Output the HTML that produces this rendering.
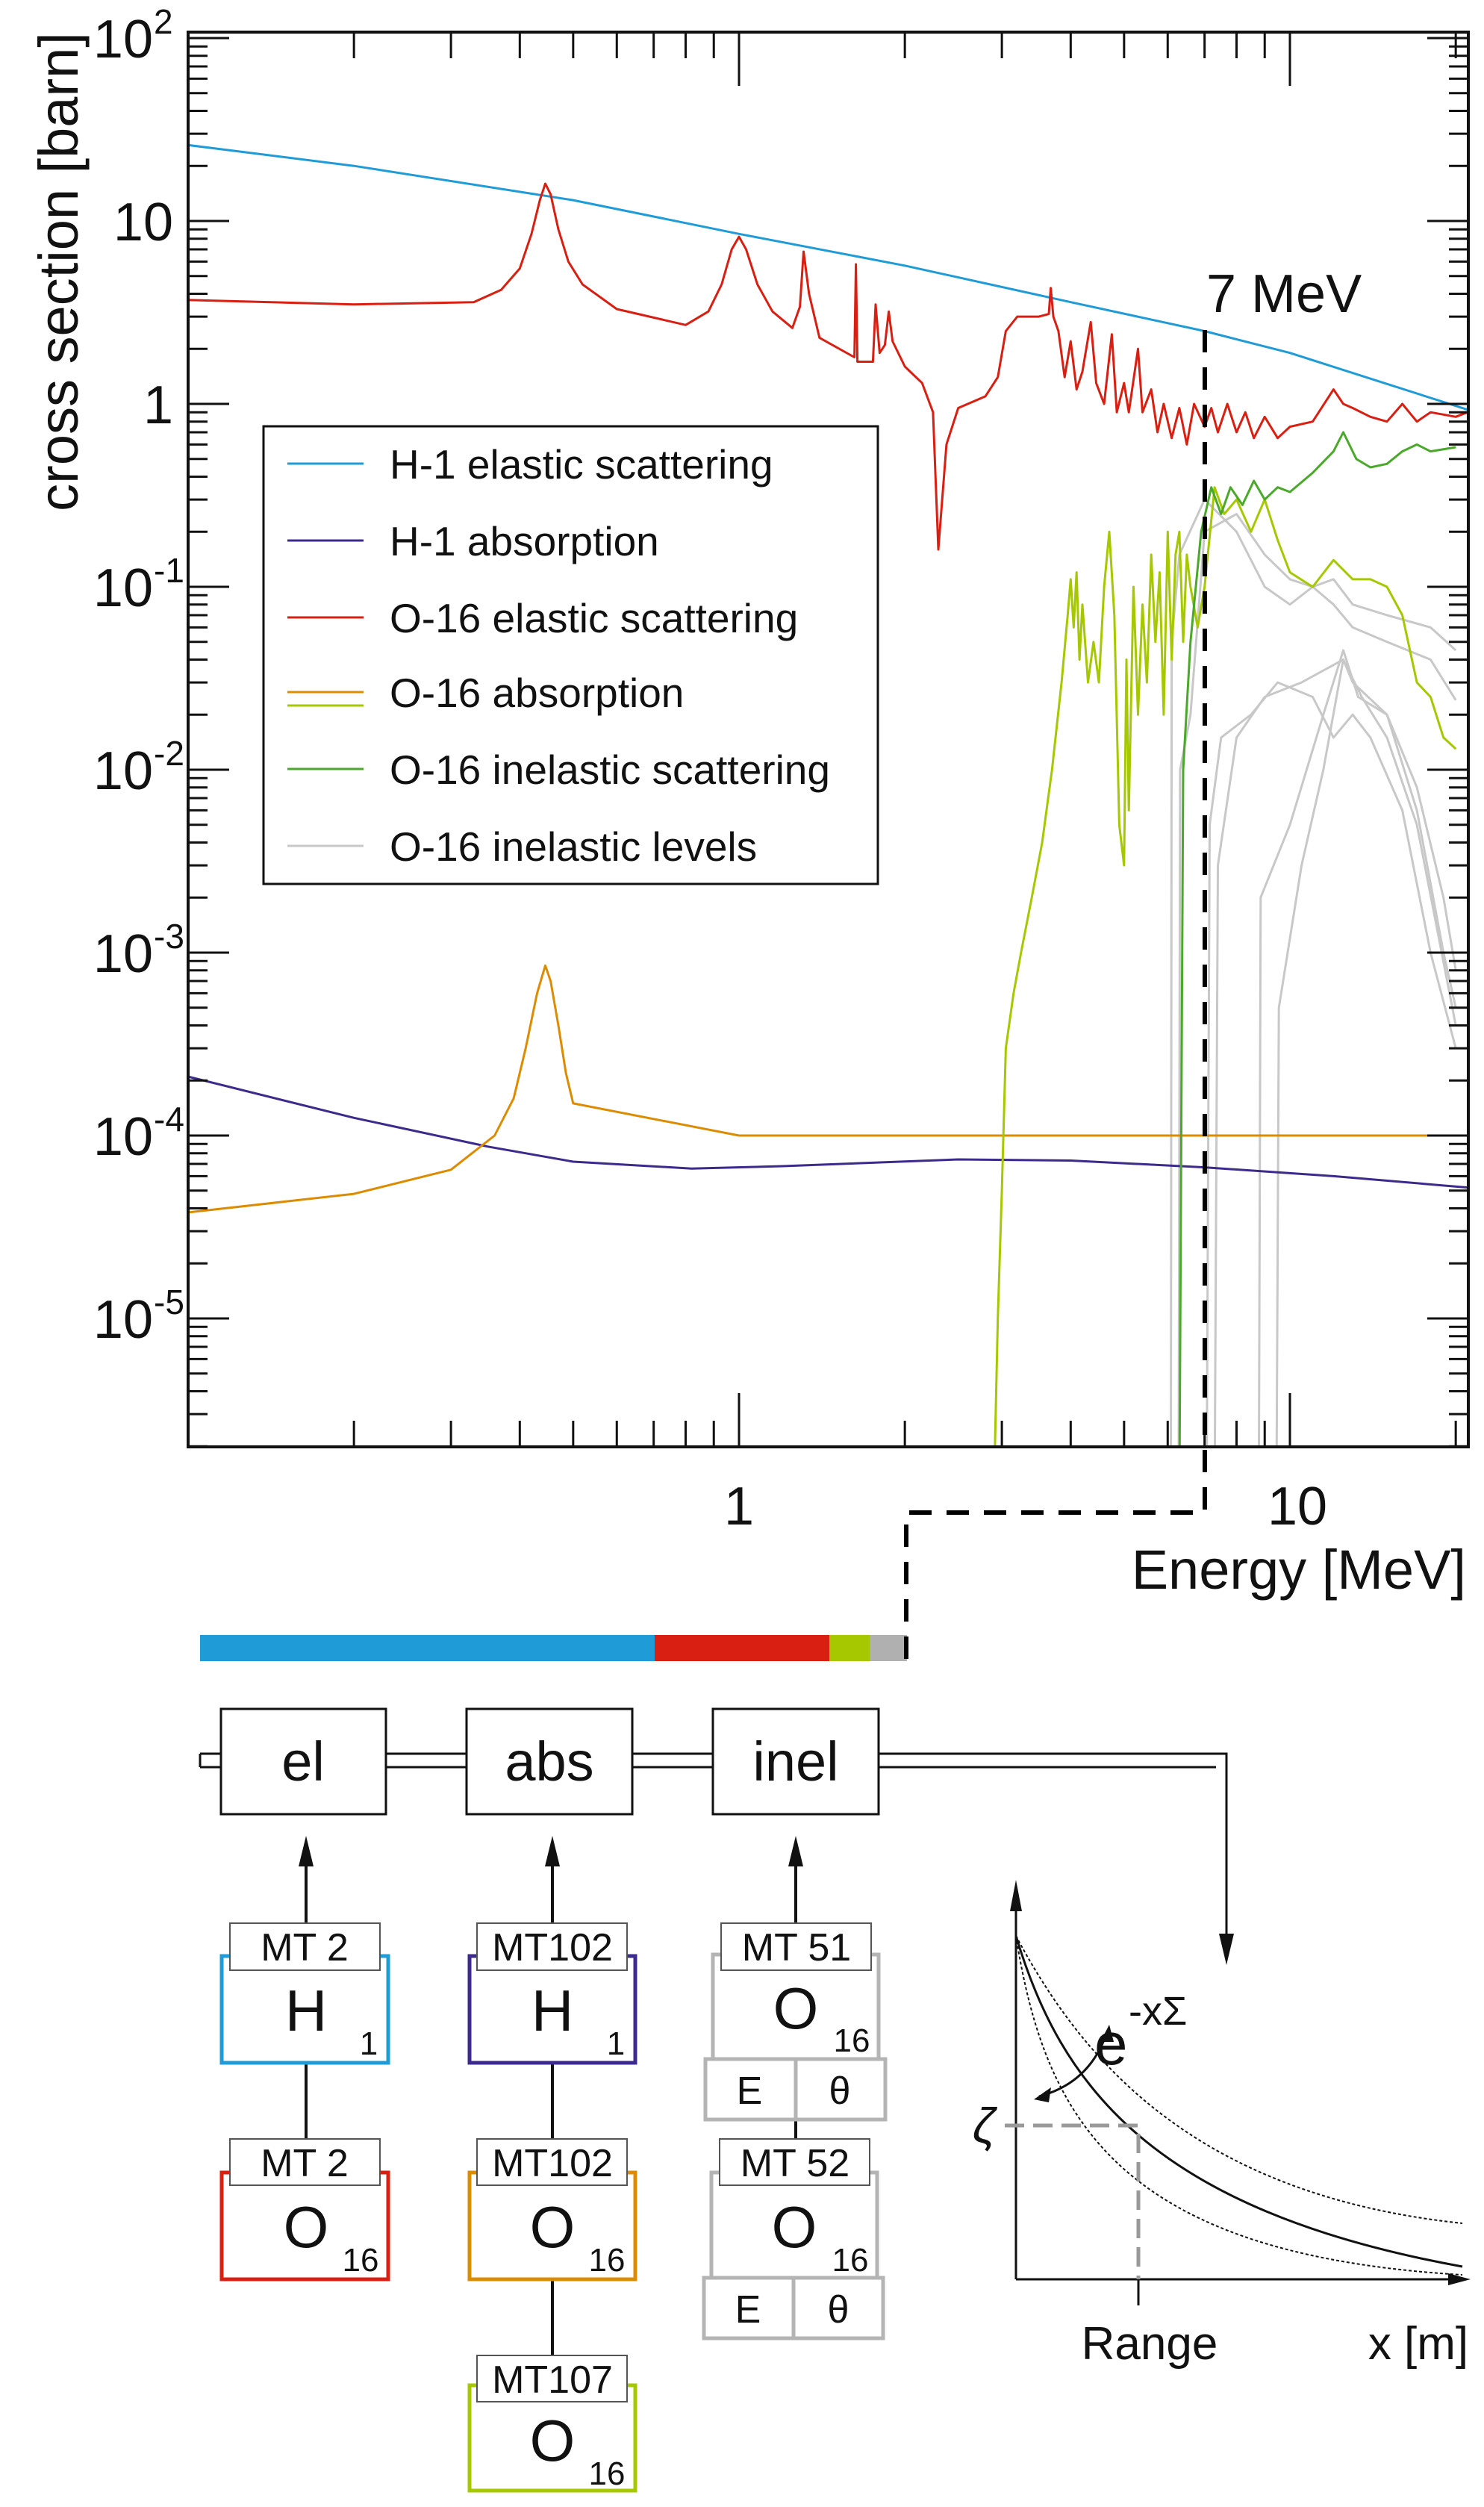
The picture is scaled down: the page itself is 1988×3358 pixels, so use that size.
<!DOCTYPE html>
<html><head><meta charset="utf-8"><style>
html,body{margin:0;padding:0;background:#fff}
svg{display:block}
text{font-family:"Liberation Sans",sans-serif;fill:#111}
.n{font-family:"Liberation Sans Narrow","Liberation Sans",sans-serif}
</style></head><body>
<svg id="svg" width="1988" height="3358" viewBox="0 0 1988 3358" xmlns="http://www.w3.org/2000/svg">
<g id="plot"></g>
<g id="diagram">
 <rect x="268" y="2190" width="609" height="35" fill="#1f9bd7"/>
 <rect x="877" y="2190" width="234" height="35" fill="#d81f12"/>
 <rect x="1111" y="2190" width="54" height="35" fill="#a5c800"/>
 <rect x="1165" y="2190" width="50" height="35" fill="#b0b0b0"/>
 <path d="M1614 442 V2026 H1214 V2228" fill="none" stroke="#000" stroke-width="6" stroke-dasharray="30 20"/>
 <path d="M268 2349 H1643 V2600 M268 2367 H1629" fill="none" stroke="#111" stroke-width="3"/>
 <path d="M268 2349 V2367" stroke="#111" stroke-width="3"/>
 <polygon points="1633,2590 1653,2590 1643,2632" fill="#111"/>
 <g stroke="#111" stroke-width="3" fill="#fff">
  <rect x="296" y="2289" width="221" height="141"/>
  <rect x="625" y="2289" width="222" height="141"/>
  <rect x="955" y="2289" width="222" height="141"/>
 </g>
 <text x="406" y="2385" font-size="74" text-anchor="middle" class="n">el</text>
 <text x="736" y="2385" font-size="74" text-anchor="middle" class="n">abs</text>
 <text x="1066" y="2385" font-size="74" text-anchor="middle" class="n">inel</text>
 <g stroke="#111" stroke-width="4">
  <path d="M410 2480 V2576 M740 2480 V2576 M1066 2480 V2576"/>
  <path d="M410 2763 V2865 M740 2763 V2865 M740 3053 V3155 M1066 2839 V2865"/>
 </g>
 <g fill="#111">
  <polygon points="400,2500 420,2500 410,2459"/>
  <polygon points="730,2500 750,2500 740,2459"/>
  <polygon points="1056,2500 1076,2500 1066,2459"/>
 </g>
 <g fill="#fff" stroke-width="5">
  <rect x="297" y="2620" width="223" height="143" stroke="#1f9bd7"/>
  <rect x="297" y="2910" width="223" height="143" stroke="#d81f12"/>
  <rect x="629" y="2620" width="222" height="143" stroke="#3c2a8c"/>
  <rect x="629" y="2910" width="222" height="143" stroke="#dc8c00"/>
  <rect x="629" y="3195" width="222" height="141" stroke="#a5c800"/>
  <rect x="955" y="2618" width="222" height="140" stroke="#b4b4b4"/>
  <rect x="945" y="2758" width="241" height="81" stroke="#b4b4b4"/>
  <rect x="953" y="2910" width="222" height="141" stroke="#b4b4b4"/>
  <rect x="943" y="3051" width="240" height="81" stroke="#b4b4b4"/>
 </g>
 <path d="M1066 2758 V2839 M1063 3051 V3132" stroke="#b4b4b4" stroke-width="5"/>
 <g fill="#fff" stroke="#555" stroke-width="2">
  <rect x="308" y="2576" width="201" height="63"/><rect x="308" y="2865" width="201" height="62"/>
  <rect x="639" y="2576" width="201" height="63"/><rect x="639" y="2865" width="201" height="62"/>
  <rect x="639" y="3155" width="201" height="62"/>
  <rect x="966" y="2576" width="201" height="63"/><rect x="964" y="2865" width="201" height="62"/>
 </g>
 <g font-size="52" text-anchor="middle" class="n">
  <text x="408" y="2626" class="n">MT 2</text>
  <text x="408" y="2915" class="n">MT 2</text>
  <text x="740" y="2626" class="n">MT102</text>
  <text x="740" y="2915" class="n">MT102</text>
  <text x="740" y="3205" class="n">MT107</text>
  <text x="1067" y="2626" class="n">MT 51</text>
  <text x="1065" y="2915" class="n">MT 52</text>
  <text x="1004" y="2818" class="n">E</text><text x="1125" y="2818" class="n">θ</text>
  <text x="1002" y="3111" class="n">E</text><text x="1123" y="3111" class="n">θ</text>
 </g>
 <g font-size="78" text-anchor="middle" class="n">
  <text x="410" y="2720" class="n">H</text><text x="740" y="2720" class="n">H</text>
  <text x="410" y="3010" class="n">O</text><text x="740" y="3010" class="n">O</text>
  <text x="740" y="3296" class="n">O</text>
  <text x="1066" y="2717" class="n">O</text><text x="1064" y="3010" class="n">O</text>
 </g>
 <g font-size="44" text-anchor="middle" class="n">
  <text x="494" y="2752" class="n">1</text><text x="825" y="2752" class="n">1</text>
  <text x="483" y="3042" class="n">16</text><text x="813" y="3042" class="n">16</text>
  <text x="813" y="3328" class="n">16</text>
  <text x="1141" y="2748" class="n">16</text><text x="1139" y="3042" class="n">16</text>
 </g>
 <g fill="none">
  <path d="M1361 3053 V2535 M1361 3053 H1945" stroke="#111" stroke-width="3"/>
  <polygon points="1353,2560 1369,2560 1361,2518" fill="#111"/>
  <polygon points="1940,3045 1940,3061 1970,3053" fill="#111"/>
  <path d="M1361 2593 C1420 2790 1540 2960 1959 3036" stroke="#111" stroke-width="3"/>
  <path d="M1361 2593 C1450 2760 1600 2940 1959 2978" stroke="#111" stroke-width="2" stroke-dasharray="4 3"/>
  <path d="M1361 2593 C1400 2840 1500 3020 1959 3047" stroke="#111" stroke-width="2" stroke-dasharray="4 3"/>
  <path d="M1346 2847 H1525 V3053" stroke="#999" stroke-width="5" stroke-dasharray="26 12"/>
  <path d="M1525 3053 V3088" stroke="#111" stroke-width="3"/>
  <path d="M1392 2808 Q1460 2790 1483 2722" stroke="#111" stroke-width="3"/>
  <polygon points="1385,2812 1408,2796 1405,2816" fill="#111"/>
  <polygon points="1486,2712 1474,2735 1492,2735" fill="#111"/>
 </g>
 <text x="1318" y="2870" font-size="66" text-anchor="middle" font-style="italic">ζ</text>
 <text x="1540" y="3160" font-size="62" text-anchor="middle" class="n">Range</text>
 <text x="1900" y="3160" font-size="62" text-anchor="middle" class="n">x [m]</text>
 <text x="1466" y="2765" font-size="80" class="n">e</text>
 <text x="1512" y="2712" font-size="54" class="n">-xΣ</text>
</g>
</svg>
<script>
const NS="http://www.w3.org/2000/svg";
const h1El=[[0.1,26],[0.2,20],[0.5,13],[1,8.5],[2,5.7],[4,3.6],[7,2.5],[10,1.9],[21,0.93]];
const h1Abs=[[0.1,2.1e-4],[0.2,1.25e-4],[0.35,8.7e-5],[0.5,7.2e-5],[0.82,6.6e-5],[1.2,6.8e-5],[2.5,7.4e-5],[4,7.3e-5],[7,6.7e-5],[12,6e-5],[21,5.2e-5]];
const o16Abs=[[0.1,3.8e-5],[0.2,4.8e-5],[0.3,6.5e-5],[0.36,1e-4],[0.39,1.6e-4],[0.41,3e-4],[0.43,6e-4],[0.445,8.5e-4],[0.455,7e-4],[0.47,4e-4],[0.485,2.2e-4],[0.5,1.5e-4],[1.0,1e-4],[21,1e-4]];
const o16El=[[0.1,3.7],[0.2,3.5],[0.33,3.6],[0.37,4.2],[0.4,5.5],[0.42,8.5],[0.435,13],[0.445,16],[0.455,14],[0.47,9],[0.49,6],[0.52,4.5],[0.6,3.3],[0.8,2.7],[0.88,3.2],[0.93,4.5],[0.97,7],[1.0,8.2],[1.03,7],[1.08,4.5],[1.15,3.2],[1.25,2.6],[1.29,3.4],[1.31,6.8],[1.34,4],[1.4,2.3],[1.62,1.8],[1.63,5.8],[1.64,1.7],[1.75,1.7],[1.77,3.5],[1.8,1.9],[1.84,2.1],[1.87,3.2],[1.9,2.2],[2.0,1.6],[2.15,1.3],[2.25,0.9],[2.3,0.16],[2.38,0.6],[2.5,0.95],[2.8,1.1],[2.95,1.4],[3.05,2.5],[3.2,3.0],[3.5,3.0],[3.65,3.1],[3.68,4.3],[3.72,3.0],[3.8,2.5],[3.9,1.4],[4.0,2.2],[4.1,1.2],[4.2,1.5],[4.35,2.8],[4.45,1.3],[4.6,1.0],[4.75,2.4],[4.85,0.9],[5.0,1.3],[5.1,0.9],[5.3,2.0],[5.4,0.9],[5.6,1.2],[5.75,0.7],[5.9,1.0],[6.1,0.65],[6.3,0.95],[6.5,0.6],[6.7,1.0],[7.0,0.75],[7.2,0.95],[7.4,0.7],[7.7,1.0],[8.0,0.7],[8.3,0.9],[8.6,0.65],[9.0,0.85],[9.5,0.65],[10,0.75],[11,0.8],[12,1.2],[12.5,1.0],[13,0.95],[14,0.85],[15,0.8],[16,1.0],[17,0.8],[18,0.9],[20,0.85],[21,0.9]];
const o16AbsHi=[[2.9,1e-6],[2.95,1e-5],[3.0,5e-5],[3.05,3e-4],[3.15,6e-4],[3.25,1e-3],[3.4,2e-3],[3.55,4e-3],[3.7,1e-2],[3.85,3e-2],[3.95,0.07],[4.0,0.11],[4.05,0.06],[4.1,0.12],[4.15,0.04],[4.2,0.08],[4.3,0.03],[4.4,0.05],[4.5,0.03],[4.6,0.1],[4.7,0.2],[4.8,0.07],[4.9,0.005],[5.0,0.003],[5.05,0.04],[5.1,0.006],[5.2,0.1],[5.3,0.02],[5.4,0.08],[5.5,0.03],[5.6,0.15],[5.7,0.05],[5.8,0.12],[5.9,0.02],[6.0,0.2],[6.1,0.04],[6.2,0.15],[6.3,0.2],[6.4,0.05],[6.5,0.15],[6.6,0.1],[6.8,0.06],[7.0,0.1],[7.3,0.35],[7.6,0.25],[8.0,0.3],[8.5,0.2],[9.0,0.3],[9.5,0.18],[10,0.12],[11,0.1],[12,0.14],[13,0.11],[14,0.11],[15,0.1],[16,0.07],[17,0.03],[18,0.025],[19,0.015],[20,0.013]];
const o16Inel=[[6.3,1e-6],[6.4,0.01],[6.6,0.05],[6.9,0.2],[7.2,0.35],[7.5,0.25],[7.8,0.35],[8.2,0.28],[8.6,0.38],[9,0.3],[9.5,0.35],[10,0.33],[11,0.42],[12,0.55],[12.5,0.7],[13.2,0.5],[14,0.45],[15,0.47],[16,0.55],[17,0.6],[18,0.55],[20,0.58]];
const levels=[
 [[6.08,1e-6],[6.1,0.05],[6.3,0.15],[7,0.3],[8,0.2],[9,0.1],[10,0.08],[11,0.1],[12,0.08],[13,0.06],[15,0.05],[18,0.04],[20,0.024]],
 [[6.28,1e-6],[6.32,0.01],[6.6,0.02],[7,0.2],[8,0.25],[9,0.15],[10,0.11],[11,0.1],[12,0.11],[13,0.08],[15,0.07],[18,0.06],[20,0.045]],
 [[7.06,1e-6],[7.15,0.005],[7.5,0.015],[8.5,0.02],[9.5,0.03],[11,0.025],[12,0.015],[13,0.02],[14,0.015],[16,0.006],[18,0.001],[20,0.0003]],
 [[7.3,1e-6],[7.4,0.003],[8,0.015],[9,0.025],[10.5,0.03],[12.5,0.04],[13,0.03],[15,0.02],[17,0.008],[19,0.002],[20,0.0008]],
 [[8.78,1e-6],[8.85,0.002],[10,0.005],[11.5,0.02],[12.5,0.045],[13.3,0.025],[15,0.02],[17,0.006],[19,0.001],[20,0.0005]],
 [[9.45,1e-6],[9.55,0.0005],[10.5,0.003],[11.5,0.01],[12.5,0.04],[13.5,0.025],[15,0.015],[17,0.005],[20,0.0004]]];
const yTickExp=[2,1,0,-1,-2,-3,-4,-5];
const yTickLabels=["10","10","1","10","10","10","10","10"];
const yTickSup=["2","","","-1","-2","-3","-4","-5"];
const xTickVals=[1,10];
const xTickLabels=["1","10"];

const L=252,R=1967,T=43,B=1938;
const X=e=>L+(Math.log10(e)+1)*738;
const Y=s=>541-Math.log10(s)*245;
const plot=document.getElementById('plot');
function mk(tag,attrs,parent){const el=document.createElementNS(NS,tag);for(const k in attrs)el.setAttribute(k,attrs[k]);(parent||plot).appendChild(el);return el;}
const defs=mk('defs',{});const cp=mk('clipPath',{id:'clip'},defs);mk('rect',{x:L,y:T,width:R-L,height:B-T},cp);
const series=[[levels[0],'#c8c8c8','level-1'],[levels[1],'#c8c8c8','level-2'],[levels[2],'#c8c8c8','level-3'],[levels[3],'#c8c8c8','level-4'],[levels[4],'#c8c8c8','level-5'],[levels[5],'#c8c8c8','level-6'],
 [h1El,'#1f9bd7','h1-elastic'],[h1Abs,'#3c2a8c','h1-absorption'],[o16Abs,'#dc8c00','o16-absorption-low'],[o16AbsHi,'#a5c800','o16-absorption-high'],[o16Inel,'#4aa82a','o16-inelastic'],[o16El,'#d81f12','o16-elastic']];
const g=mk('g',{'clip-path':'url(#clip)'});


series.forEach(([d,c,n])=>{
 const p=mk('path',{d:'M'+d.map(q=>X(q[0]).toFixed(1)+' '+Y(q[1]).toFixed(1)).join(' L'),fill:'none',stroke:c,'stroke-width':3,'stroke-linejoin':'round'},g);
 
 
});
let tk='';
for(let ex=-6;ex<=2;ex++){for(let m=1;m<10;m++){const v=m*Math.pow(10,ex);const y=Y(v);if(y<T||y>B)continue;const len=m==1?55:26;tk+=`M${L} ${y}h${len}M${R} ${y}h${-len}`;}}
for(let ex=-1;ex<=1;ex++){for(let m=1;m<10;m++){const v=m*Math.pow(10,ex);const x=X(v);if(x<L+2||x>R-2)continue;const len=m==1?72:35;tk+=`M${x} ${B}v${-len}M${x} ${T}v${len}`;}}
const tp=mk('path',{d:tk,stroke:'#111','stroke-width':3});


const fr=mk('rect',{x:L,y:T,width:R-L,height:B-T,fill:'none',stroke:'#111','stroke-width':4});


yTickExp.forEach((ex,i)=>{
 const y=Y(Math.pow(10,ex));
 const t=mk('text',{x:yTickSup[i]?205:232,y:y+26,'font-size':72,'text-anchor':'end'});
 t.textContent=yTickLabels[i];
 
 
 if(yTickSup[i]){const s=mk('text',{x:206,y:y-6,'font-size':46});s.textContent=yTickSup[i];
 
 }
});
xTickVals.forEach((v,i)=>{
 const t=mk('text',{x:X(v)+(v==10?10:0),y:2042,'font-size':72,'text-anchor':'middle'});t.textContent=xTickLabels[i];
 
 
});
const xt=mk('text',{x:1964,y:2128,'font-size':74,'text-anchor':'end'});xt.textContent='Energy [MeV]';


const yt=mk('text',{x:0,y:0,'font-size':74,'text-anchor':'middle',transform:'translate(104,364) rotate(-90)'});yt.textContent='cross section [barn]';


const mv=mk('text',{x:1616,y:418,'font-size':72});mv.textContent='7 MeV';


const lg=mk('g',{});


mk('rect',{x:353,y:571,width:823,height:613,fill:'#fff',stroke:'#111','stroke-width':3},lg);
const legNames=['H-1 elastic scattering','H-1 absorption','O-16 elastic scattering','O-16 absorption','O-16 inelastic scattering','O-16 inelastic levels'];
const legCols=['#1f9bd7','#3c2a8c','#d81f12','#dc8c00','#4aa82a','#c8c8c8'];
const legY=[626,729,832,932,1035,1138];
legNames.forEach((n,i)=>{
 const e=mk('g',{},lg);
 
 
 mk('line',{x1:385,x2:487,y1:legY[i]-5,y2:legY[i]-5,stroke:legCols[i],'stroke-width':3},e);
 if(i==3)mk('line',{x1:385,x2:487,y1:legY[i]+13,y2:legY[i]+13,stroke:'#a5c800','stroke-width':3},e);
 const t=mk('text',{x:522,y:legY[i]+15,'font-size':55},e);t.textContent=n;
});
</script>
</body></html>
